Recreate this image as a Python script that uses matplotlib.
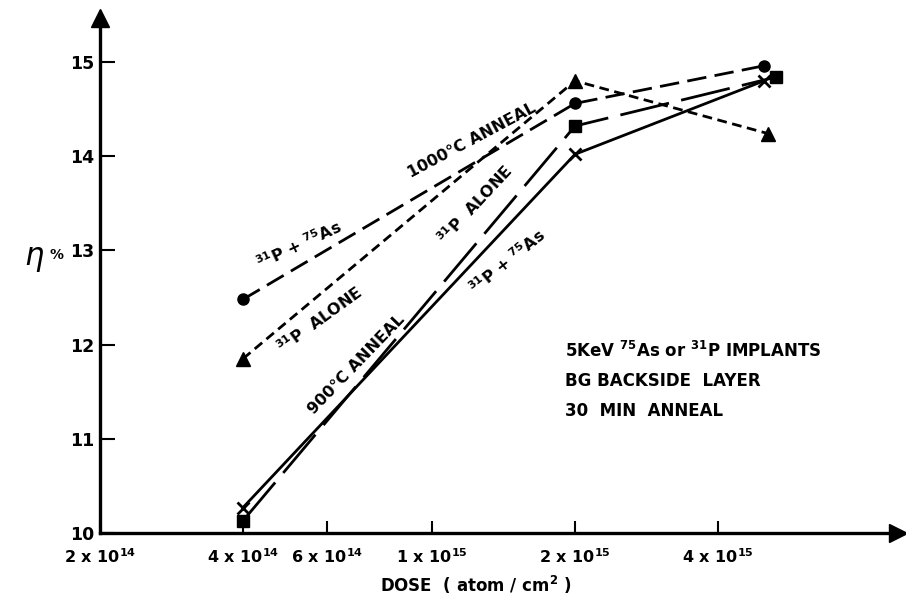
import numpy as np
import matplotlib
matplotlib.use("Agg")
import matplotlib.pyplot as plt
from matplotlib.ticker import FixedLocator, NullLocator

plt.rcParams.update({
    'font.family': 'DejaVu Sans',
    'font.weight': 'bold',
    'mathtext.fontset': 'custom',
    'mathtext.rm': 'DejaVu Sans:bold',
    'mathtext.bf': 'DejaVu Sans:bold',
    'mathtext.it': 'DejaVu Sans:bold',
    'mathtext.default': 'rm',
    'lines.scale_dashes': False,
})

# efficiency (%) vs implant dose (atom/cm^2)
dose_as_1000 = [4e14, 2e15, 5.0e15]
eff_as_1000 = [12.48, 14.56, 14.96]

dose_p_1000 = [4e14, 2e15, 5.1e15]
eff_p_1000 = [11.85, 14.80, 14.24]

dose_p_900 = [4e14, 2e15, 5.3e15]
eff_p_900 = [10.13, 14.32, 14.84]

dose_as_900 = [4e14, 2e15, 5.0e15]
eff_as_900 = [10.27, 14.02, 14.80]

x_ticks = [2e14, 4e14, 6e14, 1e15, 2e15, 4e15]
x_tick_labels = ['2 x 10$^{14}$', '4 x 10$^{14}$', '6 x 10$^{14}$',
                 '1 x 10$^{15}$', '2 x 10$^{15}$', '4 x 10$^{15}$']
y_ticks = [10, 11, 12, 13, 14, 15]

W, H = 906, 598
fig = plt.figure(figsize=(W / 100, H / 100), dpi=100)
ax = fig.add_axes([100 / W, (H - 533) / H, 798 / W, 515 / H])


def fpos(x, y):
    return x / W, 1 - y / H


ax.set_xscale('log')
ax.set_xlim(2e14, 2e14 * 10 ** (798 / 475))
ax.set_ylim(10, 10 + 515 / 94.2)

ax.plot(dose_as_1000, eff_as_1000, color='k', lw=2.0, dashes=(14, 6),
        marker='o', ms=8)
ax.plot(dose_p_1000, eff_p_1000, color='k', lw=2.0, dashes=(7, 4),
        marker='^', ms=10)
ax.plot(dose_p_900, eff_p_900, color='k', lw=2.0, dashes=(36, 9),
        marker='s', ms=9)
ax.plot(dose_as_900, eff_as_900, color='k', lw=2.0,
        marker='x', ms=8, mew=2)

# axes: only left and bottom, with arrow heads
for s in ['top', 'right']:
    ax.spines[s].set_visible(False)
for s in ['left', 'bottom']:
    ax.spines[s].set_linewidth(2.4)
ax.plot([1], [0], marker='>', ms=13, color='k', transform=ax.transAxes, clip_on=False)
ax.plot([0], [1], marker='^', ms=13, color='k', transform=ax.transAxes, clip_on=False)

ax.xaxis.set_major_locator(FixedLocator(x_ticks))
ax.xaxis.set_minor_locator(NullLocator())
ax.set_xticklabels(x_tick_labels)
ax.set_yticks(y_ticks)
ax.set_yticklabels([str(v) for v in y_ticks])
ax.tick_params(axis='x', direction='in', length=9, width=1.5, pad=10, labelsize=11.5)
ax.tick_params(axis='y', direction='in', length=11, width=1.5, pad=4, labelsize=12.5)

# axis titles
fig.text(*fpos(476, 585), 'DOSE  ( atom / cm$^{2}$ )', ha='center', va='center', fontsize=12)
fig.text(*fpos(34, 257), 'η', ha='center', va='center', fontsize=22,
         style='italic', weight='normal')
fig.text(*fpos(56, 255), '%', ha='center', va='center', fontsize=10)

# curve labels along the lines
labels = [
    ('1000°C ANNEAL', 472, 140, 28),
    ('$^{31}$P + $^{75}$As', 299, 245, 25),
    ('$^{31}$P  ALONE', 320, 320, 36),
    ('900°C ANNEAL', 357, 364, 46),
    ('$^{31}$P  ALONE', 475, 205, 47),
    ('$^{31}$P + $^{75}$As', 507, 262, 39),
]
for txt, x, y, rot in labels:
    fig.text(*fpos(x, y), txt, ha='center', va='center', rotation=rot,
             rotation_mode='anchor', fontsize=11.5)

# conditions
notes = ['5KeV $^{75}$As or $^{31}$P IMPLANTS', 'BG BACKSIDE  LAYER', '30  MIN  ANNEAL']
for i, txt in enumerate(notes):
    fig.text(*fpos(565, 351 + 30 * i), txt, ha='left', va='center', fontsize=12)

fig.savefig('out.png', dpi=100)
